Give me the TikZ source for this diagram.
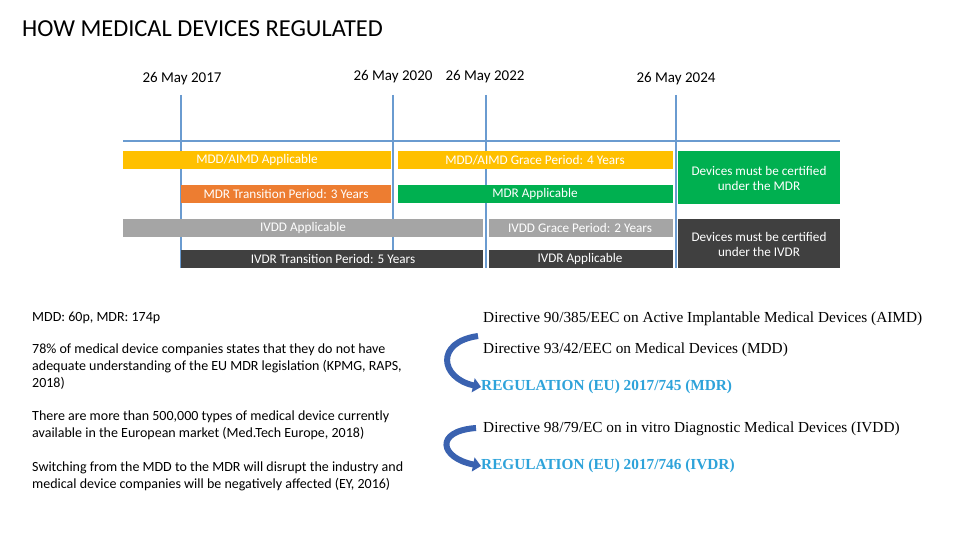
\documentclass[tikz,border=0pt]{standalone}
\usepackage{fontspec}
\setmainfont{Carlito}
\newfontfamily\tms{Liberation Serif}
\usetikzlibrary{arrows.meta}
\definecolor{cyel}{HTML}{FFC000}
\definecolor{cora}{HTML}{ED7D31}
\definecolor{cgrn}{HTML}{00B050}
\definecolor{cgry}{HTML}{A5A5A5}
\definecolor{cdrk}{HTML}{404040}
\definecolor{cline}{HTML}{6A9BD0}
\definecolor{creg}{HTML}{2EA3DA}
\definecolor{carr}{HTML}{3A62B0}
\tikzset{
 bar/.style={fill=#1,draw=none},
 bt/.style={text=white,font=\fontsize{13.2}{15}\selectfont},
 dt/.style={font=\fontsize{15}{16}\selectfont},
 pt/.style={font=\fontsize{14}{17}\selectfont,anchor=north west,align=left,inner sep=0},
 rt/.style={font=\tms\fontsize{15.3}{16}\selectfont,anchor=west,inner sep=0},
 rb/.style={rt,font=\tms\bfseries\fontsize{15.3}{16}\selectfont,text=creg},
 tl/.style={cline,line width=2.2pt},
 carrow/.style={carr,line width=6pt,-{Triangle[width=14pt,length=8pt]}}
}
\begin{document}
\begin{tikzpicture}[x=1pt,y=-1pt]
\useasboundingbox[fill=white] (0,0) rectangle (960,540);
\node[anchor=west,font=\fontsize{24.4}{26}\selectfont,inner sep=0] (title) at (22,29) {HOW MEDICAL DEVICES REGULATED};
% dates
\node[dt] (d1) at (182,79) {26 May 2017};
\node[dt] (d2) at (393,77) {26 May 2020};
\node[dt] (d3) at (485,77) {26 May 2022};
\node[dt] (d4) at (676,79) {26 May 2024};
% lines
\draw[tl] (123,141) -- (840,141);
\foreach \x in {181,393,486,676} \draw[tl] (\x,95) -- (\x,268);
% bars
\fill[bar=cyel] (123,151) rectangle (391,169); \node[bt] (b1) at (257,160) {MDD/AIMD Applicable};
\fill[bar=cyel] (398,151) rectangle (673,169); \node[bt] (b2) at (535,160) {MDD/AIMD Grace Period: 4 Years};
\fill[bar=cora] (181,185) rectangle (391,203); \node[bt] (b3) at (286,194) {MDR Transition Period: 3 Years};
\fill[bar=cgrn] (398,185) rectangle (673,203); \node[bt] (b4) at (535,194) {MDR Applicable};
\fill[bar=cgrn] (678,151) rectangle (840,204); \node[bt,align=center] (b5) at (759,178) {Devices must be certified\\under the MDR};
\fill[bar=cgry] (123,219) rectangle (483,237); \node[bt] (b6) at (303,228) {IVDD Applicable};
\fill[bar=cgry] (489,219) rectangle (673,237); \node[bt] (b7) at (580,228) {IVDD Grace Period: 2 Years};
\fill[bar=cdrk] (181,250) rectangle (483,268); \node[bt] (b8) at (333,259) {IVDR Transition Period: 5 Years};
\fill[bar=cdrk] (489,250) rectangle (673,268); \node[bt] (b9) at (580,259) {IVDR Applicable};
\fill[bar=cdrk] (678,219) rectangle (840,268); \node[bt,align=center] (b10) at (759,244) {Devices must be certified\\under the IVDR};
% left text
\node[pt] (p1) at (32,312) {MDD: 60p, MDR: 174p};
\node[pt] (p2) at (32,344) {78\% of medical device companies states that they do not have\\adequate understanding of the EU MDR legislation (KPMG, RAPS,\\2018)};
\node[pt] (p3) at (32,411) {There are more than 500,000 types of medical device currently\\available in the European market (Med.Tech Europe, 2018)};
\node[pt] (p4) at (32,462) {Switching from the MDD to the MDR will disrupt the industry and\\medical device companies will be negatively affected (EY, 2016)};
% right text
\node[rt] (r1) at (483,319) {Directive 90/385/EEC on Active Implantable Medical Devices (AIMD)};
\node[rt] (r2) at (483,350) {Directive 93/42/EEC on Medical Devices (MDD)};
\node[rb] (r3) at (481,387) {REGULATION (EU) 2017/745 (MDR)};
\node[rt] (r4) at (483,429) {Directive 98/79/EC on in vitro Diagnostic Medical Devices (IVDD)};
\node[rb] (r5) at (481,466) {REGULATION (EU) 2017/746 (IVDR)};
% arrows
\coordinate (a1s) at (478,336);
\draw[carrow] (a1s) .. controls (435,342) and (440,378) .. (r3.west);
\coordinate (a2s) at (476,428);
\draw[carrow] (a2s) .. controls (434,431) and (440,458) .. (r5.west);
\end{tikzpicture}
\end{document}
